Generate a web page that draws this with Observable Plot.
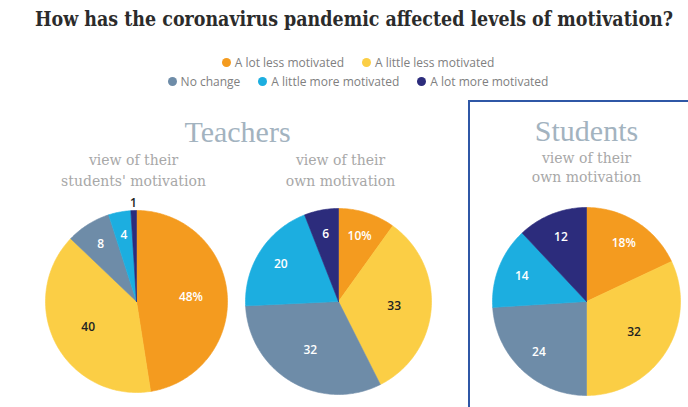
<!DOCTYPE html>
<html>
<head>
<meta charset="utf-8">
<script src="https://cdn.jsdelivr.net/npm/d3@7"></script>
<script src="https://cdn.jsdelivr.net/npm/@observablehq/plot@0.6"></script>
<style>
  html, body { margin: 0; padding: 0; background: #fff; overflow: hidden; width: 688px; height: 407px; }
  #header { height: 92px; position: relative; }
  #title {
    position: absolute; left: calc(50% + 10px); top: 8px; white-space: nowrap;
    font-family: "DejaVu Serif", serif; font-weight: bold;
    font-size: 20px; line-height: 23px; color: #2b2b2b; transform-origin: 0 50%;
  }
  #legend {
    position: absolute; left: 28px; right: 0; top: 53px;
    font-family: "Open Sans", sans-serif; font-size: 12px; color: #808080;
  }
  .row { display: flex; justify-content: center; height: 19px; align-items: center; }
  .item { display: flex; align-items: center; margin: 0 9px; white-space: nowrap; }
  .dot { width: 9px; height: 9px; border-radius: 50%; margin-right: 4px; }
</style>
</head>
<body>
<div id="header">
  <div id="title">How has the coronavirus pandemic affected levels of motivation?</div>
  <div id="legend"></div>
</div>
<div id="chart"></div>
<script>
// Response categories and their colours
const categories = [
  "A lot less motivated",
  "A little less motivated",
  "No change",
  "A little more motivated",
  "A lot more motivated"
];
const colors = ["#f49b1f", "#fbce45", "#6e8ca8", "#1caee0", "#2c2c7c"];

// Shares (%) for each pie, in category order
const teachersOnStudents = [48, 40, 8, 4, 1];
const teachersOwn = [10, 33, 32, 20, 6];
const studentsOwn = [18, 32, 24, 14, 12];

// Headings
const groupTitles = ["Teachers", "Students"];
const pieSubtitles = [
  ["view of their", "students' motivation"],
  ["view of their", "own motivation"],
  ["view of their", "own motivation"]
];

// Page layout (pixel positions on the page)
const W = 688, TOP = 92, H = 407 - TOP;
const pieLayout = [
  {values: teachersOnStudents, cx: 136, cy: 301, r: 91, sub: pieSubtitles[0], subX: 133, subY: [164, 185]},
  {values: teachersOwn, cx: 338, cy: 301, r: 93, sub: pieSubtitles[1], subX: 340, subY: [164, 185]},
  {values: studentsOwn, cx: 586, cy: 301, r: 94, sub: pieSubtitles[2], subX: 586, subY: [162, 181]}
];
const titleLayout = [{x: 237, y: 132}, {x: 586, y: 131}];

// Legend, two rows
const legend = d3.select("#legend");
[[0, 1], [2, 3, 4]].forEach(row => {
  const r = legend.append("div").attr("class", "row");
  row.forEach(i => {
    const it = r.append("div").attr("class", "item");
    it.append("div").attr("class", "dot").style("background", colors[i]);
    it.append("span").text(categories[i]);
  });
});

// Fit the title to a 638px line, centred
const titleEl = document.getElementById("title");
const tw = titleEl.getBoundingClientRect().width;
const ts = 638 / tw;
titleEl.style.transform = `translateX(${-319}px) scaleX(${ts})`;

// Slice outlines and label positions from d3.pie angles
const slicePoints = [];
const sliceLabels = [];
const pie = d3.pie().sort(null).value(d => d);
pieLayout.forEach((p, pi) => {
  pie(p.values).forEach((a, i) => {
    const key = pi + "-" + i;
    const cat = categories[i];
    slicePoints.push({key, cat, x: p.cx, y: p.cy});
    const n = Math.max(2, Math.ceil((a.endAngle - a.startAngle) / (Math.PI / 180)));
    for (let k = 0; k <= n; ++k) {
      const t = a.startAngle + (a.endAngle - a.startAngle) * k / n;
      slicePoints.push({key, cat, x: p.cx + p.r * Math.sin(t), y: p.cy - p.r * Math.cos(t)});
    }
    slicePoints.push({key, cat, x: p.cx, y: p.cy});
    const v = a.data;
    const kr = v < 2 ? 1.08 : v < 25 ? 0.74 : 0.6;
    const m = (a.startAngle + a.endAngle) / 2;
    sliceLabels.push({
      x: p.cx + kr * p.r * Math.sin(m),
      y: p.cy - kr * p.r * Math.cos(m),
      text: i === 0 ? v + "%" : String(v),
      dark: i === 1 || kr > 1
    });
  });
});

const titles = groupTitles.map((t, i) => ({text: t, ...titleLayout[i]}));
const subs = pieLayout.flatMap(p => p.sub.map((s, j) => ({text: s, x: p.subX, y: p.subY[j]})));

const chart = Plot.plot({
  width: W,
  height: H,
  margin: 0,
  x: {domain: [0, W], range: [0, W], axis: null},
  y: {domain: [TOP, TOP + H], range: [0, H], axis: null},
  color: {domain: categories, range: colors},
  style: {overflow: "hidden", background: "white"},
  marks: [
    Plot.rect([0], {x1: 469, x2: 700, y1: 101, y2: 420, fill: "none", stroke: "#2f57a6", strokeWidth: 2}),
    Plot.line(slicePoints, {x: "x", y: "y", z: "key", fill: "cat", stroke: "cat", strokeWidth: 0.6, curve: "linear"}),
    Plot.text(titles, {x: "x", y: "y", text: "text", fill: "#a3b3bf", fontSize: 30,
      fontFamily: "Liberation Serif, serif"}),
    Plot.text(subs, {x: "x", y: "y", text: "text", fill: "#a8a8a8", fontSize: 14,
      fontFamily: "DejaVu Serif, serif", lineAnchor: "bottom"}),
    Plot.text(sliceLabels, {x: "x", y: "y", text: "text", fill: d => d.dark ? "#222" : "#fff",
      fontSize: 12, fontWeight: 600, fontFamily: "Open Sans, sans-serif"})
  ]
});
document.getElementById("chart").append(chart);
</script>
</body>
</html>
